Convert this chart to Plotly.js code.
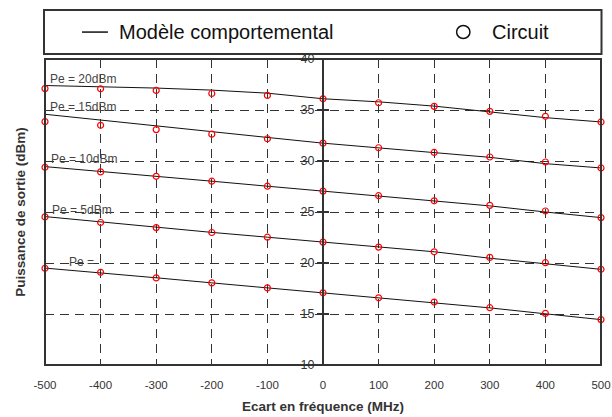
<!DOCTYPE html>
<html>
<head>
<meta charset="utf-8">
<script src="https://cdn.plot.ly/plotly-3.0.1.min.js"></script>
<style>html,body{margin:0;padding:0;background:#fff;}#chart{width:612px;height:417px;}</style>
</head>
<body>
<div id="chart"></div>
<script>
// Frequency offsets (MHz)
const freq = [-500, -400, -300, -200, -100, 0, 100, 200, 300, 400, 500];
const yTicks = [10, 15, 20, 25, 30, 35, 40];

// Behavioural model (lines)
const model20 = [37.40, 37.30, 37.15, 36.95, 36.65, 36.10, 35.80, 35.38, 34.82, 34.25, 33.83];
const model15 = [34.58, 34.03, 33.44, 32.89, 32.31, 31.75, 31.30, 30.84, 30.36, 29.74, 29.32];
const model10 = [29.45, 28.95, 28.50, 28.02, 27.53, 27.05, 26.60, 26.10, 25.60, 25.00, 24.45];
const model5  = [24.55, 24.02, 23.50, 23.00, 22.53, 22.05, 21.58, 21.10, 20.47, 19.93, 19.38];
const model0  = [19.50, 19.05, 18.55, 18.05, 17.56, 17.08, 16.60, 16.15, 15.60, 15.02, 14.45];

// Circuit simulation (circles)
const circuit20 = [37.10, 37.08, 36.92, 36.62, 36.43, 36.10, 35.71, 35.36, 34.87, 34.38, 33.83];
const circuit15 = [33.86, 33.50, 33.08, 32.63, 32.18, 31.75, 31.30, 30.84, 30.39, 29.90, 29.32];
const circuit10 = [29.38, 28.93, 28.50, 28.02, 27.53, 27.05, 26.60, 26.10, 25.65, 25.10, 24.45];
const circuit5  = [24.52, 23.97, 23.47, 22.99, 22.53, 22.05, 21.56, 21.10, 20.55, 20.03, 19.38];
const circuit0  = [19.48, 19.09, 18.54, 18.05, 17.56, 17.08, 16.59, 16.17, 15.62, 15.06, 14.45];

const seriesNames = ['Pe = 20dBm', 'Pe = 15dBm', 'Pe = 10dBm', 'Pe = 5dBm', 'Pe ='];
const models = [model20, model15, model10, model5, model0];
const circuits = [circuit20, circuit15, circuit10, circuit5, circuit0];

const FONT = 'Liberation Sans, Arial, Helvetica, sans-serif';
const INK = '#333';

const traces = [];
models.forEach((m, i) => {
  traces.push({
    x: freq, y: m, type: 'scatter', mode: 'lines',
    line: {color: '#111', width: 1}, showlegend: false,
    name: 'Modèle comportemental', cliponaxis: false
  });
});
circuits.forEach((c, i) => {
  traces.push({
    x: freq, y: c, type: 'scatter', mode: 'markers',
    marker: {symbol: 'circle-open', size: 6, color: 'red', line: {width: 1.2, color: 'red'}},
    showlegend: false, name: 'Circuit', cliponaxis: false
  });
});

// label placement (data coords)
const labelPos = [[-494, 38.07], [-494, 35.32], [-493, 30.2], [-491, 25.23], [-461, 20.05]];
const annotations = seriesNames.map((t, i) => ({
  x: labelPos[i][0], y: labelPos[i][1], xref: 'x', yref: 'y',
  text: t, showarrow: false, xanchor: 'left', yanchor: 'middle',
  font: {family: FONT, size: 12, color: '#444'}
}));
// legend texts
annotations.push({
  xref: 'paper', yref: 'paper', x: 0.1294, y: 1.088, xanchor: 'left', yanchor: 'middle',
  text: 'Modèle comportemental', showarrow: false,
  font: {family: FONT, size: 20, color: '#111'}
});
annotations.push({
  xref: 'paper', yref: 'paper', x: 0.7996, y: 1.088, xanchor: 'left', yanchor: 'middle',
  text: 'Circuit', showarrow: false,
  font: {family: FONT, size: 20, color: '#111'}
});

const shapes = [
  // plot frame
  {type: 'rect', xref: 'paper', yref: 'paper', x0: 0, x1: 1, y0: 0, y1: 1,
   line: {color: INK, width: 2}, layer: 'above'},
  // legend box
  {type: 'rect', xref: 'paper', yref: 'paper', x0: -0.0018, x1: 1.0009, y0: 1.0163, y1: 1.160,
   line: {color: INK, width: 2}},
  // legend line sample
  {type: 'line', xref: 'paper', yref: 'paper', x0: 0.0665, x1: 0.1132, y0: 1.088, y1: 1.088,
   line: {color: '#111', width: 1.5}},
  // legend circle sample
  {type: 'circle', xref: 'paper', yref: 'paper', x0: 0.7403, x1: 0.7643, y0: 1.0670, y1: 1.1095,
   line: {color: '#111', width: 1.5}}
];

const layout = {
  width: 612, height: 417,
  margin: {l: 45, r: 10.5, t: 59, b: 52},
  paper_bgcolor: '#fff', plot_bgcolor: '#fff',
  showlegend: false,
  font: {family: FONT, color: INK},
  xaxis: {
    range: [-500, 500], tickvals: freq, ticktext: freq.map(String),
    showgrid: true, gridcolor: INK, gridwidth: 1, griddash: '9px,6px',
    zeroline: false, showline: false,
    ticks: 'outside', ticklen: 9, tickcolor: 'rgba(0,0,0,0)',
    ticklabeloverflow: 'allow',
    tickfont: {family: FONT, size: 11.5, color: INK},
    title: {text: '<b>Ecart en fréquence (MHz)</b>', font: {family: FONT, size: 13.5, color: INK}, standoff: 11},
    automargin: false
  },
  yaxis: {
    range: [10, 40], tickvals: yTicks,
    showgrid: true, gridcolor: INK, gridwidth: 1, griddash: '9px,6px',
    zeroline: false, showline: false, showticklabels: false, ticks: '',
    title: {text: '<b>Puissance de sortie (dBm)</b>', font: {family: FONT, size: 13.5, color: INK}, standoff: 15},
    automargin: false
  },
  yaxis2: {
    overlaying: 'y', anchor: 'free', position: 0.5, side: 'left',
    range: [10, 40], tickvals: yTicks, showgrid: false, zeroline: false,
    showline: true, linecolor: INK, linewidth: 2,
    ticks: 'outside', ticklen: 5, tickwidth: 2, tickcolor: INK,
    tickfont: {family: FONT, size: 12.5, color: INK}, automargin: false
  },
  yaxis3: {
    overlaying: 'y', anchor: 'free', position: 0.5, side: 'right',
    range: [10, 40], tickvals: yTicks, showgrid: false, zeroline: false,
    showline: false, showticklabels: false,
    ticks: 'outside', ticklen: 5, tickwidth: 2, tickcolor: INK, automargin: false
  },
  shapes: shapes,
  annotations: annotations
};

// invisible helper traces so the overlay axes get drawn
traces.push({x: [null], y: [null], yaxis: 'y2', type: 'scatter', mode: 'markers', showlegend: false, hoverinfo: 'skip'});
traces.push({x: [null], y: [null], yaxis: 'y3', type: 'scatter', mode: 'markers', showlegend: false, hoverinfo: 'skip'});

Plotly.newPlot('chart', traces, layout, {staticPlot: true, displayModeBar: false});
</script>
</body>
</html>
